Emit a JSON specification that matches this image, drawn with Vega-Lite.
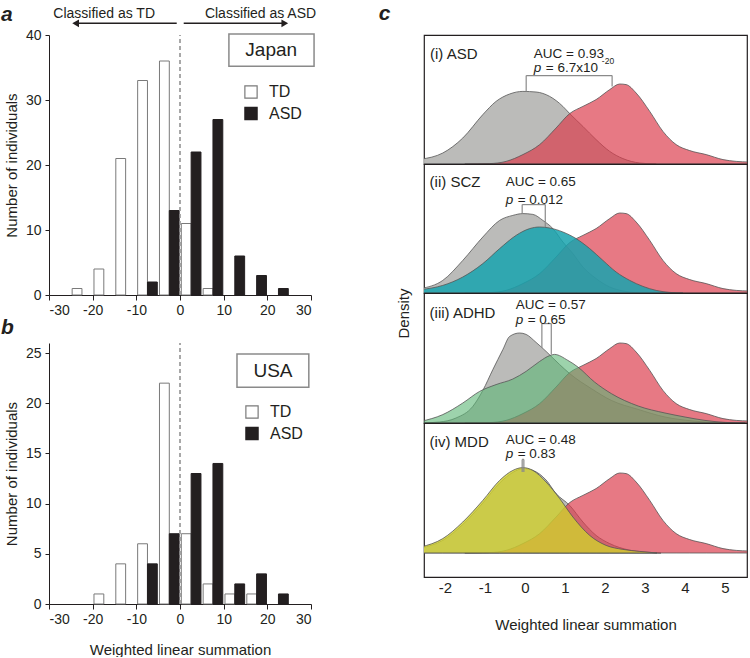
{
"$schema":"https://vega.github.io/schema/vega-lite/v6.json",
"padding":{"left":0,"top":2,"right":0,"bottom":0},
"config":{"font":"Liberation Sans","view":{"stroke":null},
"axis":{"grid":false,"labelColor":"#231f20","titleColor":"#231f20","domainColor":"#231f20","tickColor":"#231f20","labelFontSize":14,"titleFontSize":15,"titleFontWeight":"normal","domainWidth":1,"tickWidth":1},
"legend":{"labelColor":"#231f20"},
"text":{"color":"#231f20"}},
"datasets":{
"japan":[{"g":"TD","lo":-24.7,"hi":-22.45,"n":1},{"g":"TD","lo":-19.7,"hi":-17.45,"n":4},{"g":"TD","lo":-14.7,"hi":-12.45,"n":21},{"g":"TD","lo":-9.7,"hi":-7.45,"n":33},{"g":"TD","lo":-4.7,"hi":-2.45,"n":36},{"g":"TD","lo":0.3,"hi":2.55,"n":11},{"g":"TD","lo":5.3,"hi":7.55,"n":1},
{"g":"ASD","lo":-7.45,"hi":-5.2,"n":2},{"g":"ASD","lo":-2.45,"hi":-0.2,"n":13},{"g":"ASD","lo":2.55,"hi":4.8,"n":22},{"g":"ASD","lo":7.55,"hi":9.8,"n":27},{"g":"ASD","lo":12.55,"hi":14.8,"n":6},{"g":"ASD","lo":17.55,"hi":19.8,"n":3},{"g":"ASD","lo":22.55,"hi":24.8,"n":1}],
"usa":[{"g":"TD","lo":-19.7,"hi":-17.45,"n":1},{"g":"TD","lo":-14.7,"hi":-12.45,"n":4},{"g":"TD","lo":-9.7,"hi":-7.45,"n":6},{"g":"TD","lo":-4.7,"hi":-2.45,"n":22},{"g":"TD","lo":0.3,"hi":2.55,"n":7},{"g":"TD","lo":5.3,"hi":7.55,"n":2},{"g":"TD","lo":10.3,"hi":12.55,"n":1},{"g":"TD","lo":15.3,"hi":17.55,"n":1},
{"g":"ASD","lo":-7.45,"hi":-5.2,"n":4},{"g":"ASD","lo":-2.45,"hi":-0.2,"n":7},{"g":"ASD","lo":2.55,"hi":4.8,"n":13},{"g":"ASD","lo":7.55,"hi":9.8,"n":14},{"g":"ASD","lo":12.55,"hi":14.8,"n":2},{"g":"ASD","lo":17.55,"hi":19.8,"n":3},{"g":"ASD","lo":22.55,"hi":24.8,"n":1}],
"red":[{"v":-1.5,"d":0},{"v":-0.88,"d":0.002},{"v":-0.47,"d":0.013},{"v":-0.05,"d":0.047},{"v":0.37,"d":0.097},{"v":0.78,"d":0.18},{"v":1.12,"d":0.252},{"v":1.45,"d":0.288},{"v":1.78,"d":0.322},{"v":2.12,"d":0.372},{"v":2.37,"d":0.4},{"v":2.53,"d":0.397},{"v":2.78,"d":0.355},{"v":3.12,"d":0.263},{"v":3.45,"d":0.163},{"v":3.78,"d":0.097},{"v":4.12,"d":0.067},{"v":4.53,"d":0.047},{"v":4.95,"d":0.022},{"v":5.28,"d":0.013},{"v":5.6,"d":0.01}],
"gray1":[{"v":-2.6,"d":0.024},{"v":-2.05,"d":0.055},{"v":-1.55,"d":0.13},{"v":-1.05,"d":0.247},{"v":-0.72,"d":0.313},{"v":-0.38,"d":0.35},{"v":-0.05,"d":0.363},{"v":0.28,"d":0.36},{"v":0.62,"d":0.338},{"v":0.95,"d":0.288},{"v":1.12,"d":0.252},{"v":1.45,"d":0.188},{"v":1.78,"d":0.122},{"v":2.12,"d":0.063},{"v":2.45,"d":0.027},{"v":2.87,"d":0.005},{"v":3.28,"d":0}],
"gray2":[{"v":-2.6,"d":0.022},{"v":-2.05,"d":0.063},{"v":-1.55,"d":0.163},{"v":-1.05,"d":0.28},{"v":-0.63,"d":0.363},{"v":-0.3,"d":0.388},{"v":-0.05,"d":0.397},{"v":0.2,"d":0.393},{"v":0.45,"d":0.363},{"v":0.7,"d":0.322},{"v":0.95,"d":0.255},{"v":1.2,"d":0.197},{"v":1.45,"d":0.13},{"v":1.78,"d":0.072},{"v":2.12,"d":0.03},{"v":2.45,"d":0.01},{"v":2.87,"d":0}],
"teal":[{"v":-2.6,"d":0.017},{"v":-2.05,"d":0.038},{"v":-1.55,"d":0.08},{"v":-1.05,"d":0.147},{"v":-0.63,"d":0.222},{"v":-0.22,"d":0.288},{"v":0.12,"d":0.322},{"v":0.37,"d":0.33},{"v":0.62,"d":0.325},{"v":0.95,"d":0.305},{"v":1.28,"d":0.272},{"v":1.62,"d":0.222},{"v":1.95,"d":0.163},{"v":2.28,"d":0.105},{"v":2.62,"d":0.063},{"v":2.95,"d":0.033},{"v":3.28,"d":0.013},{"v":3.62,"d":0.003},{"v":3.95,"d":0}],
"gray3":[{"v":-2.6,"d":0},{"v":-2.13,"d":0.005},{"v":-1.72,"d":0.025},{"v":-1.3,"d":0.083},{"v":-1.05,"d":0.163},{"v":-0.8,"d":0.267},{"v":-0.55,"d":0.367},{"v":-0.38,"d":0.433},{"v":-0.13,"d":0.45},{"v":0.03,"d":0.443},{"v":0.28,"d":0.403},{"v":0.53,"d":0.358},{"v":0.87,"d":0.292},{"v":1.12,"d":0.247},{"v":1.66,"d":0.172},{"v":2.16,"d":0.113},{"v":2.83,"d":0.068},{"v":3.5,"d":0.03},{"v":4.2,"d":0.01},{"v":5.0,"d":0}],
"green":[{"v":-2.6,"d":0.008},{"v":-2.05,"d":0.042},{"v":-1.55,"d":0.1},{"v":-1.13,"d":0.158},{"v":-0.72,"d":0.192},{"v":-0.3,"d":0.22},{"v":0.03,"d":0.258},{"v":0.37,"d":0.308},{"v":0.62,"d":0.337},{"v":0.74,"d":0.343},{"v":1.075,"d":0.313},{"v":1.325,"d":0.28},{"v":1.74,"d":0.205},{"v":2.16,"d":0.147},{"v":2.83,"d":0.085},{"v":3.5,"d":0.05},{"v":4.0,"d":0.03},{"v":4.5,"d":0.013},{"v":5.0,"d":0.003},{"v":5.5,"d":0}],
"gray4":[{"v":-2.6,"d":0.025},{"v":-2.05,"d":0.063},{"v":-1.55,"d":0.143},{"v":-1.05,"d":0.25},{"v":-0.63,"d":0.35},{"v":-0.3,"d":0.403},{"v":-0.05,"d":0.422},{"v":0.2,"d":0.413},{"v":0.53,"d":0.365},{"v":0.78,"d":0.297},{"v":1.12,"d":0.238},{"v":1.45,"d":0.155},{"v":1.78,"d":0.088},{"v":2.12,"d":0.047},{"v":2.6,"d":0.015},{"v":3.0,"d":0.005},{"v":3.4,"d":0}],
"yellow":[{"v":-2.6,"d":0.03},{"v":-2.05,"d":0.072},{"v":-1.55,"d":0.155},{"v":-1.05,"d":0.263},{"v":-0.63,"d":0.363},{"v":-0.3,"d":0.413},{"v":-0.05,"d":0.427},{"v":0.2,"d":0.413},{"v":0.53,"d":0.355},{"v":0.87,"d":0.272},{"v":1.2,"d":0.18},{"v":1.62,"d":0.088},{"v":2.03,"d":0.038},{"v":2.45,"d":0.018},{"v":2.87,"d":0.008},{"v":3.3,"d":0}]
},
"bounds":"full",
"spacing":61,
"resolve":{"scale":{"x":"independent","y":"independent"}},
"hconcat":[
{"vconcat":[
{"width":262,"height":260,
"layer":[
{"data":{"name":"japan"},"mark":{"type":"bar","strokeWidth":1},
"encoding":{
"x":{"field":"lo","type":"quantitative","scale":{"domain":[-30,30],"nice":false,"zero":false},"axis":{"values":[-30,-20,-10,0,10,20,30],"labelExpr":"''+datum.value","title":null,"tickSize":5,"labelPadding":3}},
"x2":{"field":"hi"},
"y":{"field":"n","type":"quantitative","scale":{"domain":[0,40],"nice":false},"axis":{"values":[0,10,20,30,40],"title":"Number of individuals","tickSize":4,"labelPadding":4,"titlePadding":6}},
"y2":{"datum":0},
"fill":{"field":"g","type":"nominal","scale":{"domain":["TD","ASD"],"range":["#ffffff","#231f20"]},"legend":{"orient":"none","legendX":194,"legendY":49,"title":null,"symbolType":"square","symbolSize":150,"symbolStrokeWidth":1.2,"labelFontSize":16,"labelOffset":10,"rowPadding":3.5,"padding":0}},
"stroke":{"field":"g","type":"nominal","scale":{"domain":["TD","ASD"],"range":["#7a7a7a","#231f20"]},"legend":{"orient":"none","legendX":194,"legendY":49,"title":null,"symbolType":"square","symbolSize":150,"symbolStrokeWidth":1.2,"labelFontSize":16,"labelOffset":10,"rowPadding":3.5,"padding":0}}}},
{"data":{"values":[{}]},"mark":{"type":"rule","color":"#8c8c8c","strokeDash":[4,3],"strokeWidth":1.5},"encoding":{"x":{"datum":0},"y":{"datum":0},"y2":{"datum":40}}},
{"data":{"values":[{}]},"mark":{"type":"rule","color":"#231f20","strokeWidth":1.5},"encoding":{"x":{"datum":-0.75},"x2":{"datum":-23.5},"y":{"datum":41.8}}},
{"data":{"values":[{}]},"mark":{"type":"rule","color":"#231f20","strokeWidth":1.5},"encoding":{"x":{"datum":0.85},"x2":{"datum":23.6},"y":{"datum":41.8}}},
{"data":{"values":[{}]},"mark":{"type":"point","shape":"triangle-left","filled":true,"color":"#231f20","size":60,"opacity":1},"encoding":{"x":{"datum":-23.9},"y":{"datum":41.8}}},
{"data":{"values":[{}]},"mark":{"type":"point","shape":"triangle-right","filled":true,"color":"#231f20","size":60,"opacity":1},"encoding":{"x":{"datum":24.0},"y":{"datum":41.8}}},
{"data":{"values":[{}]},"mark":{"type":"text","fontSize":14,"align":"left"},"encoding":{"x":{"datum":-29.0},"y":{"datum":43.2},"text":{"value":"Classified as TD"}}},
{"data":{"values":[{}]},"mark":{"type":"text","fontSize":14,"align":"left"},"encoding":{"x":{"datum":5.7},"y":{"datum":43.2},"text":{"value":"Classified as ASD"}}},
{"data":{"values":[{}]},"mark":{"type":"rect","fill":"#ffffff","stroke":"#8a8a8a","strokeWidth":1.5},"encoding":{"x":{"datum":11.2},"x2":{"datum":30.7},"y":{"datum":35.2},"y2":{"datum":40.15}}},
{"data":{"values":[{}]},"mark":{"type":"text","fontSize":19,"align":"center","baseline":"middle"},"encoding":{"x":{"datum":20.9},"y":{"datum":37.7},"text":{"value":"Japan"}}},
{"data":{"values":[{}]},"mark":{"type":"text","fontSize":21,"align":"left","fontStyle":"italic","fontWeight":"bold"},"encoding":{"x":{"datum":-41},"y":{"datum":43.1},"text":{"value":"a"}}}
]},
{"width":262,"height":261,
"layer":[
{"data":{"name":"usa"},"mark":{"type":"bar","strokeWidth":1},
"encoding":{
"x":{"field":"lo","type":"quantitative","scale":{"domain":[-30,30],"nice":false,"zero":false},"axis":{"values":[-30,-20,-10,0,10,20,30],"labelExpr":"''+datum.value","title":"Weighted linear summation","tickSize":5,"labelPadding":3,"titlePadding":16}},
"x2":{"field":"hi"},
"y":{"field":"n","type":"quantitative","scale":{"domain":[0,26],"nice":false},"axis":{"values":[0,5,10,15,20,25],"title":"Number of individuals","tickSize":4,"labelPadding":4,"titlePadding":6}},
"y2":{"datum":0},
"fill":{"field":"g","type":"nominal","scale":{"domain":["TD","ASD"],"range":["#ffffff","#231f20"]},"legend":{"orient":"none","legendX":195,"legendY":61,"title":null,"symbolType":"square","symbolSize":150,"symbolStrokeWidth":1.2,"labelFontSize":16,"labelOffset":10,"rowPadding":3.5,"padding":0}},
"stroke":{"field":"g","type":"nominal","scale":{"domain":["TD","ASD"],"range":["#7a7a7a","#231f20"]},"legend":{"orient":"none","legendX":195,"legendY":61,"title":null,"symbolType":"square","symbolSize":150,"symbolStrokeWidth":1.2,"labelFontSize":16,"labelOffset":10,"rowPadding":3.5,"padding":0}}}},
{"data":{"values":[{}]},"mark":{"type":"rule","color":"#8c8c8c","strokeDash":[4,3],"strokeWidth":1.5},"encoding":{"x":{"datum":0},"y":{"datum":0},"y2":{"datum":26}}},
{"data":{"values":[{}]},"mark":{"type":"rect","fill":"#ffffff","stroke":"#8a8a8a","strokeWidth":1.5},"encoding":{"x":{"datum":13.05},"x2":{"datum":29.5},"y":{"datum":21.6},"y2":{"datum":24.9}}},
{"data":{"values":[{}]},"mark":{"type":"text","fontSize":19,"align":"center","baseline":"middle"},"encoding":{"x":{"datum":21.3},"y":{"datum":23.26},"text":{"value":"USA"}}},
{"data":{"values":[{}]},"mark":{"type":"text","fontSize":21,"align":"left","fontStyle":"italic","fontWeight":"bold"},"encoding":{"x":{"datum":-41},"y":{"datum":27.5},"text":{"value":"b"}}}
]}
],
"spacing":48,"bounds":"flush",
"resolve":{"scale":{"x":"independent","y":"independent","fill":"independent","stroke":"independent"},"legend":{"fill":"independent","stroke":"independent"}}},
{"vconcat":[
{"width":323,"height":129,"view":{"stroke":"#231f20","strokeWidth":1.2},
"layer":[
{"data":{"name":"gray1"},"mark":{"type":"area","interpolate":"monotone","fill":"#b7b7b5","fillOpacity":0.95,"stroke":"#555555","strokeWidth":0.8,"clip":true},"encoding":{"x":{"field":"v","type":"quantitative","scale":{"domain":[-2.52,5.55],"nice":false,"zero":false},"axis":null},"y":{"field":"d","type":"quantitative","scale":{"domain":[0,0.645],"nice":false,"zero":false},"axis":null},"y2":{"datum":0}}},
{"data":{"name":"red"},"mark":{"type":"area","interpolate":"monotone","fill":"#dc3a4a","fillOpacity":0.68,"stroke":"#555555","strokeWidth":0.8,"clip":true},"encoding":{"x":{"field":"v","type":"quantitative","axis":null},"y":{"field":"d","type":"quantitative","axis":null},"y2":{"datum":0}}},
{"data":{"values":[{}]},"mark":{"type":"rule","color":"#8a8a8a","strokeWidth":1.2},"encoding":{"x":{"datum":0.033,"axis":null},"y":{"datum":0.362,"axis":null},"y2":{"datum":0.442}}},
{"data":{"values":[{}]},"mark":{"type":"rule","color":"#8a8a8a","strokeWidth":1.2},"encoding":{"x":{"datum":0.033,"axis":null},"x2":{"datum":2.18},"y":{"datum":0.442,"axis":null}}},
{"data":{"values":[{}]},"mark":{"type":"rule","color":"#8a8a8a","strokeWidth":1.2},"encoding":{"x":{"datum":2.18,"axis":null},"y":{"datum":0.387,"axis":null},"y2":{"datum":0.442}}},
{"data":{"values":[{}]},"mark":{"type":"text","fontSize":15,"align":"left"},"encoding":{"x":{"datum":-2.37,"axis":null},"y":{"datum":0.548,"axis":null},"text":{"value":"(i) ASD"}}},
{"data":{"values":[{}]},"mark":{"type":"text","fontSize":13.5,"align":"left"},"encoding":{"x":{"datum":0.225,"axis":null},"y":{"datum":0.548,"axis":null},"text":{"value":"AUC = 0.93"}}},
{"data":{"values":[{}]},"mark":{"type":"text","fontSize":13.5,"align":"left","fontStyle":"italic"},"encoding":{"x":{"datum":0.225,"axis":null},"y":{"datum":0.478,"axis":null},"text":{"value":"p"}}},
{"data":{"values":[{}]},"mark":{"type":"text","fontSize":13.5,"align":"left","dx":12},"encoding":{"x":{"datum":0.225,"axis":null},"y":{"datum":0.478,"axis":null},"text":{"value":"= 6.7x10"}}},
{"data":{"values":[{}]},"mark":{"type":"text","fontSize":8.5,"align":"left","dx":68,"dy":-7},"encoding":{"x":{"datum":0.225,"axis":null},"y":{"datum":0.478,"axis":null},"text":{"value":"-20"}}},
{"data":{"values":[{}]},"mark":{"type":"text","fontSize":21,"align":"left","fontStyle":"italic","fontWeight":"bold"},"encoding":{"x":{"datum":-3.65,"axis":null},"y":{"datum":0.748,"axis":null},"text":{"value":"c"}}}
]},
{"width":323,"height":129,"view":{"stroke":"#231f20","strokeWidth":1.2},
"layer":[
{"data":{"name":"gray2"},"mark":{"type":"area","interpolate":"monotone","fill":"#b7b7b5","fillOpacity":0.95,"stroke":"#555555","strokeWidth":0.8,"clip":true},"encoding":{"x":{"field":"v","type":"quantitative","scale":{"domain":[-2.52,5.55],"nice":false,"zero":false},"axis":null},"y":{"field":"d","type":"quantitative","scale":{"domain":[0,0.645],"nice":false,"zero":false},"axis":{"title":"Density","labels":false,"ticks":false,"domain":false,"titleX":-13,"titleY":149,"titleFontSize":15}},"y2":{"datum":0}}},
{"data":{"name":"red"},"mark":{"type":"area","interpolate":"monotone","fill":"#dc3a4a","fillOpacity":0.68,"stroke":"#555555","strokeWidth":0.8,"clip":true},"encoding":{"x":{"field":"v","type":"quantitative","axis":null},"y":{"field":"d","type":"quantitative","axis":{"title":"Density","labels":false,"ticks":false,"domain":false,"titleX":-13,"titleY":149,"titleFontSize":15}},"y2":{"datum":0}}},
{"data":{"name":"teal"},"mark":{"type":"area","interpolate":"monotone","fill":"#17a3ae","fillOpacity":0.85,"stroke":"#555555","strokeWidth":0.8,"clip":true},"encoding":{"x":{"field":"v","type":"quantitative","axis":null},"y":{"field":"d","type":"quantitative","axis":{"title":"Density","labels":false,"ticks":false,"domain":false,"titleX":-13,"titleY":149,"titleFontSize":15}},"y2":{"datum":0}}},
{"data":{"values":[{}]},"mark":{"type":"rule","color":"#8a8a8a","strokeWidth":1.2},"encoding":{"x":{"datum":-0.067,"axis":null},"y":{"datum":0.4},"y2":{"datum":0.442}}},
{"data":{"values":[{}]},"mark":{"type":"rule","color":"#8a8a8a","strokeWidth":1.2},"encoding":{"x":{"datum":-0.067,"axis":null},"x2":{"datum":0.51},"y":{"datum":0.442}}},
{"data":{"values":[{}]},"mark":{"type":"rule","color":"#8a8a8a","strokeWidth":1.2},"encoding":{"x":{"datum":0.51,"axis":null},"y":{"datum":0.33},"y2":{"datum":0.442}}},
{"data":{"values":[{}]},"mark":{"type":"text","fontSize":15,"align":"left"},"encoding":{"x":{"datum":-2.38,"axis":null},"y":{"datum":0.553},"text":{"value":"(ii) SCZ"}}},
{"data":{"values":[{}]},"mark":{"type":"text","fontSize":13.5,"align":"left"},"encoding":{"x":{"datum":-0.48,"axis":null},"y":{"datum":0.553},"text":{"value":"AUC = 0.65"}}},
{"data":{"values":[{}]},"mark":{"type":"text","fontSize":13.5,"align":"left","fontStyle":"italic"},"encoding":{"x":{"datum":-0.48,"axis":null},"y":{"datum":0.467},"text":{"value":"p"}}},
{"data":{"values":[{}]},"mark":{"type":"text","fontSize":13.5,"align":"left","dx":12},"encoding":{"x":{"datum":-0.48,"axis":null},"y":{"datum":0.467},"text":{"value":"= 0.012"}}}
]},
{"width":323,"height":130,"view":{"stroke":"#231f20","strokeWidth":1.2},
"layer":[
{"data":{"name":"gray3"},"mark":{"type":"area","interpolate":"monotone","fill":"#b7b7b5","fillOpacity":0.95,"stroke":"#555555","strokeWidth":0.8,"clip":true},"encoding":{"x":{"field":"v","type":"quantitative","scale":{"domain":[-2.52,5.55],"nice":false,"zero":false},"axis":null},"y":{"field":"d","type":"quantitative","scale":{"domain":[0,0.65],"nice":false,"zero":false},"axis":null},"y2":{"datum":0}}},
{"data":{"name":"red"},"mark":{"type":"area","interpolate":"monotone","fill":"#dc3a4a","fillOpacity":0.68,"stroke":"#555555","strokeWidth":0.8,"clip":true},"encoding":{"x":{"field":"v","type":"quantitative","axis":null},"y":{"field":"d","type":"quantitative","axis":null},"y2":{"datum":0}}},
{"data":{"name":"green"},"mark":{"type":"area","interpolate":"monotone","fill":"#5cb574","fillOpacity":0.6,"stroke":"#555555","strokeWidth":0.8,"clip":true},"encoding":{"x":{"field":"v","type":"quantitative","axis":null},"y":{"field":"d","type":"quantitative","axis":null},"y2":{"datum":0}}},
{"data":{"values":[{}]},"mark":{"type":"rule","color":"#8a8a8a","strokeWidth":1.2},"encoding":{"x":{"datum":0.425,"axis":null},"y":{"datum":0.375,"axis":null},"y2":{"datum":0.497}}},
{"data":{"values":[{}]},"mark":{"type":"rule","color":"#8a8a8a","strokeWidth":1.2},"encoding":{"x":{"datum":0.425,"axis":null},"x2":{"datum":0.66},"y":{"datum":0.497,"axis":null}}},
{"data":{"values":[{}]},"mark":{"type":"rule","color":"#8a8a8a","strokeWidth":1.2},"encoding":{"x":{"datum":0.66,"axis":null},"y":{"datum":0.342,"axis":null},"y2":{"datum":0.497}}},
{"data":{"values":[{}]},"mark":{"type":"text","fontSize":15,"align":"left"},"encoding":{"x":{"datum":-2.38,"axis":null},"y":{"datum":0.55,"axis":null},"text":{"value":"(iii) ADHD"}}},
{"data":{"values":[{}]},"mark":{"type":"text","fontSize":13.5,"align":"left"},"encoding":{"x":{"datum":-0.23,"axis":null},"y":{"datum":0.592,"axis":null},"text":{"value":"AUC = 0.57"}}},
{"data":{"values":[{}]},"mark":{"type":"text","fontSize":13.5,"align":"left","fontStyle":"italic"},"encoding":{"x":{"datum":-0.23,"axis":null},"y":{"datum":0.517,"axis":null},"text":{"value":"p"}}},
{"data":{"values":[{}]},"mark":{"type":"text","fontSize":13.5,"align":"left","dx":12},"encoding":{"x":{"datum":-0.23,"axis":null},"y":{"datum":0.517,"axis":null},"text":{"value":"= 0.65"}}}
]},
{"width":323,"height":154,"view":{"stroke":"#231f20","strokeWidth":1.2},
"layer":[
{"data":{"name":"gray4"},"mark":{"type":"area","interpolate":"monotone","fill":"#b7b7b5","fillOpacity":0.95,"stroke":"#555555","strokeWidth":0.8,"clip":true},"encoding":{"x":{"field":"v","type":"quantitative","scale":{"domain":[-2.52,5.55],"nice":false,"zero":false},"axis":{"values":[-2,-1,0,1,2,3,4,5],"labelExpr":"''+datum.value","ticks":false,"domain":false,"labelFontSize":15,"labelPadding":3,"title":"Weighted linear summation","titlePadding":22}},"y":{"field":"d","type":"quantitative","scale":{"domain":[-0.12,0.65],"nice":false,"zero":false},"axis":null},"y2":{"datum":0}}},
{"data":{"name":"red"},"mark":{"type":"area","interpolate":"monotone","fill":"#dc3a4a","fillOpacity":0.68,"stroke":"#555555","strokeWidth":0.8,"clip":true},"encoding":{"x":{"field":"v","type":"quantitative","axis":{"values":[-2,-1,0,1,2,3,4,5],"labelExpr":"''+datum.value","ticks":false,"domain":false,"labelFontSize":15,"labelPadding":3,"title":"Weighted linear summation","titlePadding":22}},"y":{"field":"d","type":"quantitative","axis":null},"y2":{"datum":0}}},
{"data":{"name":"yellow"},"mark":{"type":"area","interpolate":"monotone","fill":"#cfcf2d","fillOpacity":0.8,"stroke":"#555555","strokeWidth":0.8,"clip":true},"encoding":{"x":{"field":"v","type":"quantitative","axis":{"values":[-2,-1,0,1,2,3,4,5],"labelExpr":"''+datum.value","ticks":false,"domain":false,"labelFontSize":15,"labelPadding":3,"title":"Weighted linear summation","titlePadding":22}},"y":{"field":"d","type":"quantitative","axis":null},"y2":{"datum":0}}},
{"data":{"values":[{}]},"mark":{"type":"rule","color":"#8a8a8a","strokeWidth":1.2},"encoding":{"x":{"datum":-0.067},"y":{"datum":0.405,"axis":null},"y2":{"datum":0.468}}},
{"data":{"values":[{}]},"mark":{"type":"rule","color":"#8a8a8a","strokeWidth":1.2},"encoding":{"x":{"datum":-0.067},"x2":{"datum":-0.025},"y":{"datum":0.468,"axis":null}}},
{"data":{"values":[{}]},"mark":{"type":"rule","color":"#8a8a8a","strokeWidth":1.2},"encoding":{"x":{"datum":-0.025},"y":{"datum":0.405,"axis":null},"y2":{"datum":0.468}}},
{"data":{"values":[{}]},"mark":{"type":"text","fontSize":15,"align":"left"},"encoding":{"x":{"datum":-2.38},"y":{"datum":0.555,"axis":null},"text":{"value":"(iv) MDD"}}},
{"data":{"values":[{}]},"mark":{"type":"text","fontSize":13.5,"align":"left"},"encoding":{"x":{"datum":-0.48},"y":{"datum":0.563,"axis":null},"text":{"value":"AUC = 0.48"}}},
{"data":{"values":[{}]},"mark":{"type":"text","fontSize":13.5,"align":"left","fontStyle":"italic"},"encoding":{"x":{"datum":-0.48},"y":{"datum":0.493,"axis":null},"text":{"value":"p"}}},
{"data":{"values":[{}]},"mark":{"type":"text","fontSize":13.5,"align":"left","dx":12},"encoding":{"x":{"datum":-0.48},"y":{"datum":0.493,"axis":null},"text":{"value":"= 0.83"}}}
]}
],
"spacing":0,"bounds":"flush",
"resolve":{"scale":{"x":"independent","y":"independent"}}}
]
}
